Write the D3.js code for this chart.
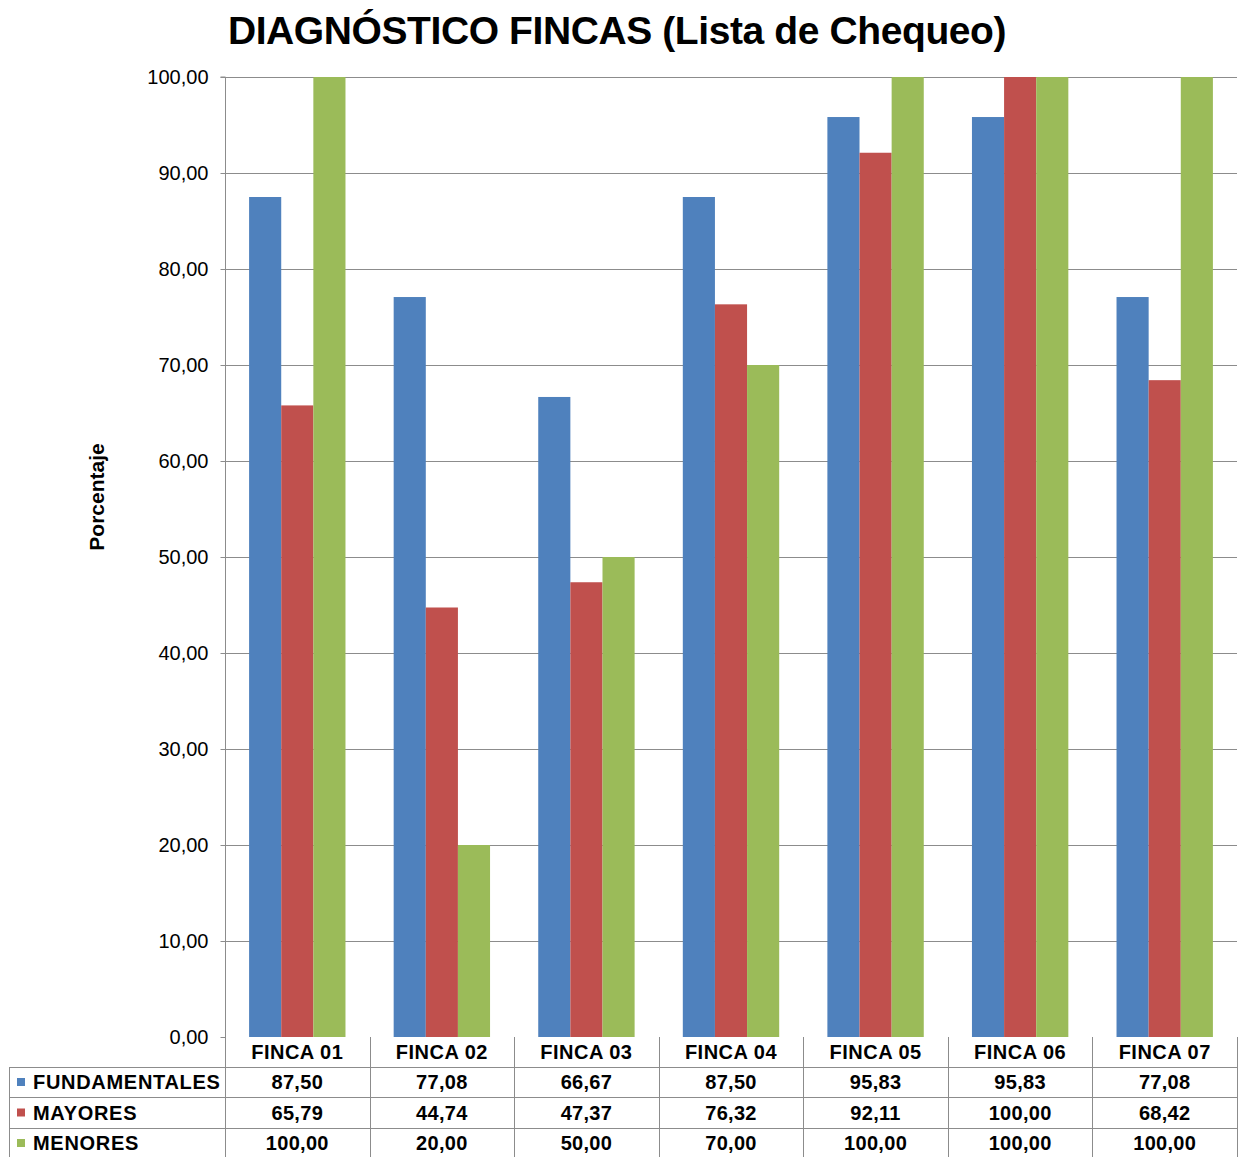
<!DOCTYPE html>
<html>
<head>
<meta charset="utf-8">
<script src="https://cdn.jsdelivr.net/npm/d3@7"></script>
<style>
  body { margin: 0; background: #fff; }
  svg { display: block; font-family: "Liberation Sans", Arial, sans-serif; }
</style>
</head>
<body>
<div id="chart"></div>
<script>
// chart data
const categories = ["FINCA 01", "FINCA 02", "FINCA 03", "FINCA 04", "FINCA 05", "FINCA 06", "FINCA 07"];
const seriesNames = ["FUNDAMENTALES", "MAYORES", "MENORES"];
const fundamentales = [87.50, 77.08, 66.67, 87.50, 95.83, 95.83, 77.08];
const mayores = [65.79, 44.74, 47.37, 76.32, 92.11, 100.00, 68.42];
const menores = [100.00, 20.00, 50.00, 70.00, 100.00, 100.00, 100.00];
const yTicks = [0, 10, 20, 30, 40, 50, 60, 70, 80, 90, 100];

const seriesValues = [fundamentales, mayores, menores];
const colors = ["#4F81BD", "#C0504D", "#9BBB59"];

const width = 1245, height = 1157;
const margin = { top: 77, left: 225, right: 8, bottom: 120 };
const plotBottom = 1037;
const fmt = v => v.toFixed(2).replace(".", ",");

const svg = d3.select("#chart")
  .append("svg")
  .attr("width", width)
  .attr("height", height);

const x = d3.scaleBand()
  .domain(categories)
  .range([margin.left, width - margin.right]);

const x1 = d3.scaleBand()
  .domain(d3.range(3))
  .range([0, x.bandwidth()])
  .paddingOuter(0.75)
  .paddingInner(0);

const y = d3.scaleLinear()
  .domain([0, 100])
  .range([plotBottom, margin.top]);

// gridlines
svg.append("g")
  .selectAll("line")
  .data(yTicks.filter(d => d > 0))
  .join("line")
  .attr("x1", margin.left)
  .attr("x2", width - margin.right)
  .attr("y1", d => y(d) + 0.5)
  .attr("y2", d => y(d) + 0.5)
  .attr("stroke", "#8c8c8c")
  .attr("stroke-width", 1);

// bars
const groups = svg.append("g")
  .selectAll("g")
  .data(categories)
  .join("g")
  .attr("transform", d => `translate(${x(d)},0)`);

groups.selectAll("rect")
  .data((d, i) => seriesValues.map((s, k) => ({ k, v: s[i] })))
  .join("rect")
  .attr("x", d => x1(d.k))
  .attr("width", x1.bandwidth())
  .attr("y", d => y(d.v))
  .attr("height", d => plotBottom - y(d.v))
  .attr("fill", d => colors[d.k]);

// y axis
const yAxis = svg.append("g")
  .attr("transform", `translate(${margin.left + 0.5},0)`)
  .call(d3.axisLeft(y).tickValues(yTicks).tickFormat(fmt).tickSize(5).tickPadding(12));
yAxis.select(".domain").attr("stroke", "#8c8c8c").attr("d", `M-5,${y(100)}H0V${plotBottom}`);
yAxis.selectAll(".tick line").attr("stroke", "#8c8c8c");
yAxis.selectAll(".tick text")
  .attr("font-size", 20)
  .attr("fill", "#000")
  .attr("font-family", "Liberation Sans, Arial, sans-serif");

// y axis title
svg.append("text")
  .attr("transform", `translate(104,497) rotate(-90)`)
  .attr("text-anchor", "middle")
  .attr("font-size", 21)
  .attr("font-weight", "bold")
  .text("Porcentaje");

// title
svg.append("text")
  .attr("x", 617)
  .attr("y", 44)
  .attr("text-anchor", "middle")
  .attr("font-size", 39)
  .attr("font-weight", "bold")
  .attr("letter-spacing", -0.4)
  .text("DIAGNÓSTICO FINCAS (Lista de Chequeo)");

// data table
const rowTops = [plotBottom, 1067, 1097, 1128, 1158];
const tableLeft = 9;
const right = width - margin.right;
const table = svg.append("g").attr("stroke", "#8c8c8c").attr("stroke-width", 1);

// horizontal lines
rowTops.slice(1).forEach((ty, i) => {
  table.append("line")
    .attr("x1", tableLeft).attr("x2", right)
    .attr("y1", ty + 0.5).attr("y2", ty + 0.5);
});
// vertical lines
table.append("line")
  .attr("x1", tableLeft + 0.5).attr("x2", tableLeft + 0.5)
  .attr("y1", rowTops[1]).attr("y2", height);
categories.forEach(c => {
  table.append("line")
    .attr("x1", Math.round(x(c)) + 0.5).attr("x2", Math.round(x(c)) + 0.5)
    .attr("y1", plotBottom).attr("y2", height);
});
table.append("line")
  .attr("x1", right + 0.5).attr("x2", right + 0.5)
  .attr("y1", plotBottom).attr("y2", height);

// category headers
svg.append("g")
  .selectAll("text")
  .data(categories)
  .join("text")
  .attr("x", d => x(d) + x.bandwidth() / 2)
  .attr("y", (rowTops[0] + rowTops[1]) / 2 + 7)
  .attr("text-anchor", "middle")
  .attr("font-size", 20)
  .attr("font-weight", "bold")
  .attr("letter-spacing", 0.5)
  .text(d => d);

// series rows
seriesNames.forEach((name, k) => {
  const cy = (rowTops[k + 1] + rowTops[k + 2]) / 2;
  svg.append("rect")
    .attr("x", 17).attr("y", cy - 4)
    .attr("width", 8).attr("height", 8)
    .attr("fill", colors[k]);
  svg.append("text")
    .attr("x", 33).attr("y", cy + 7)
    .attr("font-size", 20)
    .attr("font-weight", "bold")
    .attr("letter-spacing", 0.7)
    .text(name);
  svg.append("g")
    .selectAll("text")
    .data(seriesValues[k])
    .join("text")
    .attr("x", (d, i) => x(categories[i]) + x.bandwidth() / 2)
    .attr("y", cy + 7)
    .attr("text-anchor", "middle")
    .attr("font-size", 20)
    .attr("font-weight", "bold")
    .attr("letter-spacing", 0.3)
    .text(d => fmt(d));
});
</script>
</body>
</html>
